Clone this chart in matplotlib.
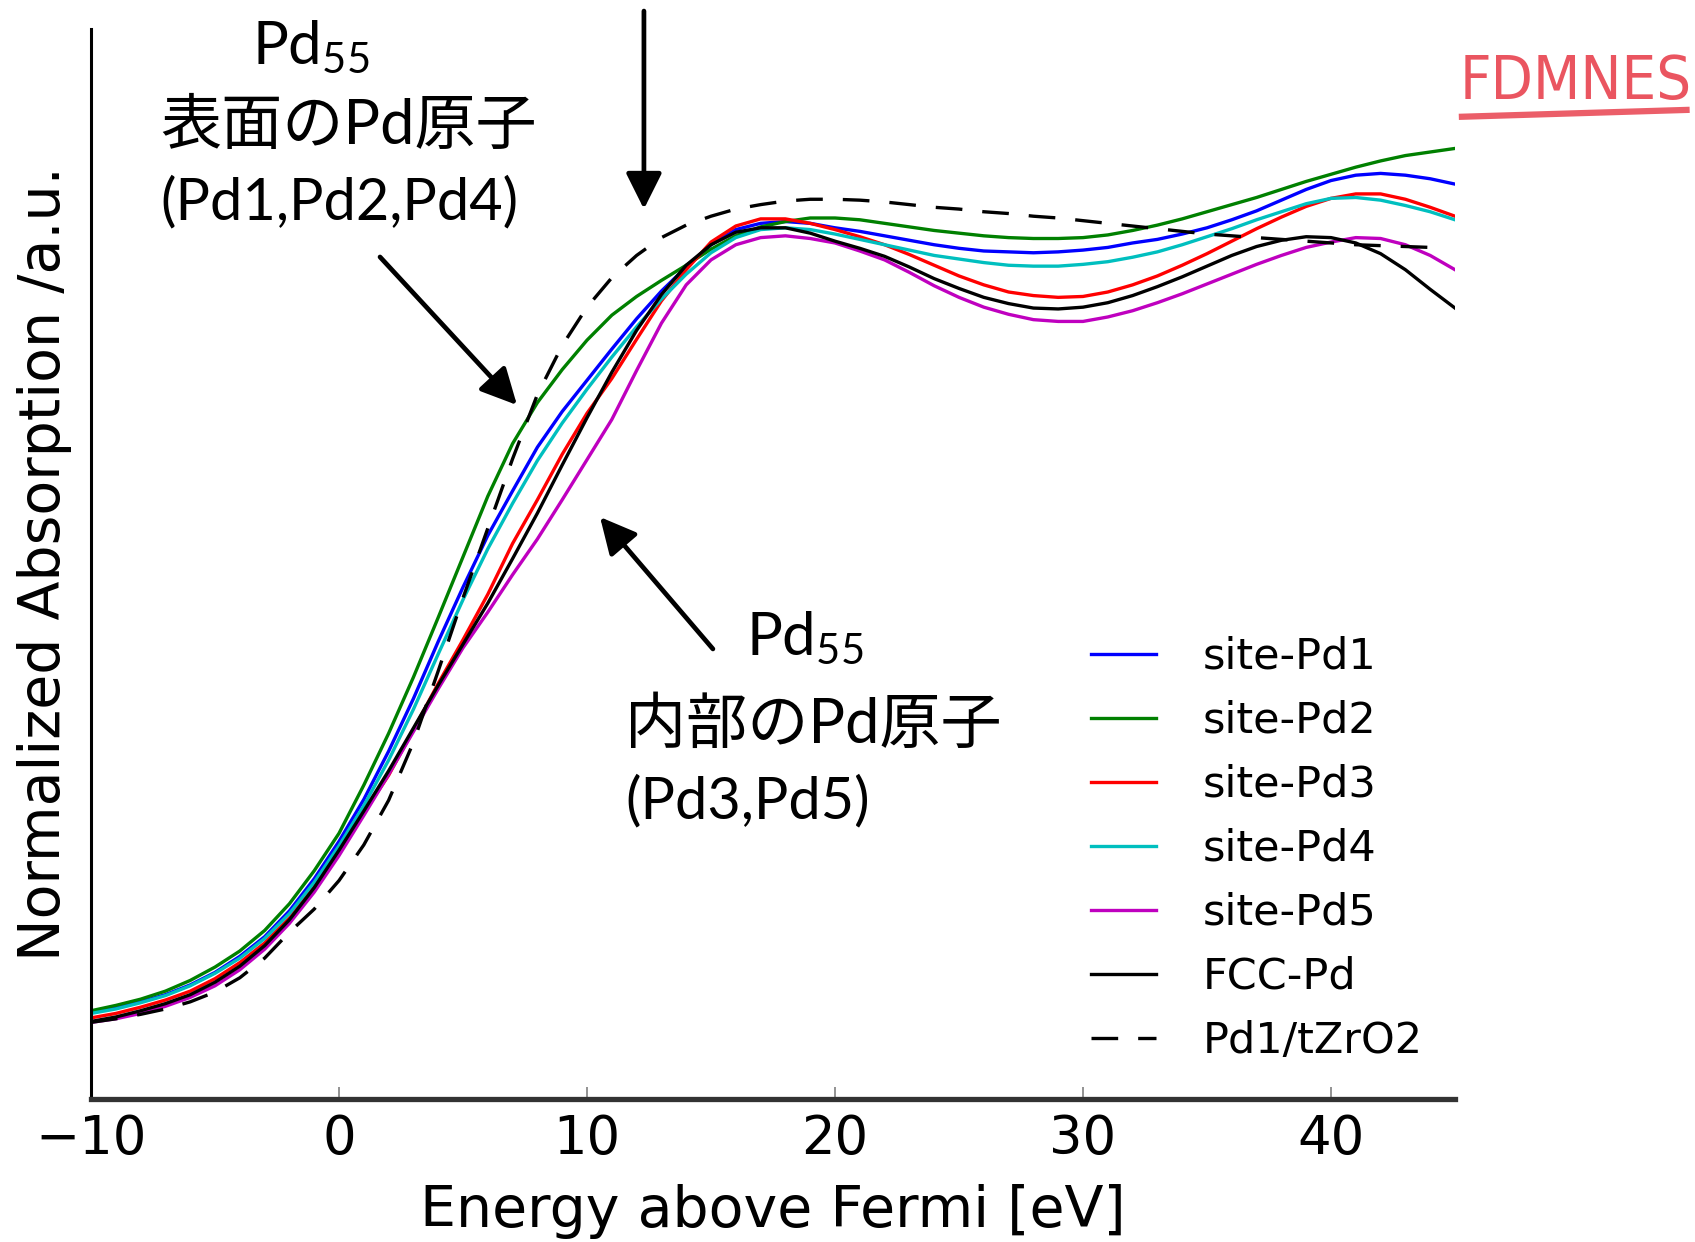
import matplotlib
matplotlib.use("Agg")
import matplotlib.pyplot as plt
from matplotlib.lines import Line2D

# Energy grid (eV above Fermi level)
energy = [-10, -9, -8, -7, -6, -5, -4, -3, -2, -1, 0, 1, 2, 3, 4, 5, 6, 7, 8, 9,
          10, 11, 12, 13, 14, 15, 16, 17, 18, 19, 20, 21, 22, 23, 24, 25, 26, 27,
          28, 29, 30, 31, 32, 33, 34, 35, 36, 37, 38, 39, 40, 41, 42, 43, 44, 45]

# Normalized absorption for each Pd site of Pd55
pd1 = [0.097, 0.102, 0.109, 0.117, 0.128, 0.142, 0.160, 0.182, 0.211, 0.247,
       0.289, 0.336, 0.390, 0.449, 0.513, 0.574, 0.632, 0.682, 0.731, 0.771,
       0.806, 0.841, 0.875, 0.906, 0.933, 0.958, 0.975, 0.982, 0.984, 0.982,
       0.977, 0.973, 0.968, 0.963, 0.958, 0.954, 0.951, 0.950, 0.949, 0.950,
       0.952, 0.955, 0.960, 0.964, 0.970, 0.977, 0.986, 0.996, 1.008, 1.020,
       1.030, 1.036, 1.038, 1.036, 1.032, 1.026]
pd2 = [0.099, 0.105, 0.112, 0.121, 0.133, 0.148, 0.166, 0.189, 0.219, 0.256,
       0.298, 0.352, 0.410, 0.473, 0.540, 0.608, 0.676, 0.735, 0.781, 0.818,
       0.851, 0.879, 0.900, 0.918, 0.935, 0.953, 0.968, 0.978, 0.984, 0.988,
       0.988, 0.986, 0.982, 0.978, 0.974, 0.971, 0.968, 0.966, 0.965, 0.965,
       0.966, 0.969, 0.974, 0.980, 0.987, 0.995, 1.003, 1.011, 1.020, 1.029,
       1.037, 1.045, 1.052, 1.058, 1.062, 1.066]
pd3 = [0.091, 0.096, 0.103, 0.111, 0.121, 0.135, 0.153, 0.175, 0.203, 0.238,
       0.279, 0.321, 0.363, 0.414, 0.466, 0.515, 0.566, 0.623, 0.672, 0.723,
       0.769, 0.808, 0.852, 0.895, 0.930, 0.961, 0.979, 0.987, 0.987, 0.982,
       0.975, 0.967, 0.958, 0.947, 0.935, 0.923, 0.913, 0.905, 0.901, 0.899,
       0.900, 0.905, 0.913, 0.923, 0.935, 0.948, 0.962, 0.976, 0.989, 1.001,
       1.010, 1.015, 1.015, 1.009, 1.000, 0.990]
pd4 = [0.096, 0.101, 0.108, 0.116, 0.127, 0.141, 0.158, 0.180, 0.208, 0.243,
       0.284, 0.329, 0.380, 0.437, 0.499, 0.560, 0.617, 0.668, 0.716, 0.758,
       0.796, 0.832, 0.866, 0.897, 0.925, 0.949, 0.966, 0.975, 0.977, 0.975,
       0.970, 0.964, 0.958, 0.952, 0.946, 0.942, 0.938, 0.935, 0.934, 0.934,
       0.936, 0.939, 0.944, 0.950, 0.958, 0.967, 0.976, 0.986, 0.995, 1.004,
       1.010, 1.011, 1.008, 1.002, 0.995, 0.986]
pd5 = [0.086, 0.090, 0.096, 0.104, 0.114, 0.127, 0.145, 0.168, 0.197, 0.232,
       0.273, 0.318, 0.364, 0.412, 0.460, 0.506, 0.546, 0.588, 0.628, 0.672,
       0.717, 0.762, 0.817, 0.870, 0.913, 0.941, 0.958, 0.966, 0.968, 0.965,
       0.960, 0.951, 0.941, 0.927, 0.912, 0.899, 0.888, 0.880, 0.874, 0.872,
       0.872, 0.877, 0.884, 0.893, 0.903, 0.914, 0.925, 0.936, 0.946, 0.955,
       0.961, 0.966, 0.965, 0.958, 0.946, 0.930]
fcc_pd = [0.087, 0.092, 0.099, 0.107, 0.117, 0.131, 0.149, 0.172, 0.201, 0.237,
          0.279, 0.323, 0.368, 0.416, 0.464, 0.510, 0.556, 0.606, 0.657, 0.711,
          0.764, 0.815, 0.862, 0.902, 0.935, 0.958, 0.972, 0.977, 0.977, 0.971,
          0.962, 0.954, 0.945, 0.933, 0.920, 0.909, 0.899, 0.892, 0.887, 0.886,
          0.888, 0.893, 0.901, 0.911, 0.922, 0.934, 0.946, 0.956, 0.963, 0.967,
          0.966, 0.960, 0.948, 0.930, 0.908, 0.887]
# experiment reference stops at 44 eV
pd1_tzro2 = [0.086, 0.090, 0.095, 0.101, 0.109, 0.120, 0.136, 0.158, 0.187, 0.213,
             0.245, 0.285, 0.335, 0.400, 0.480, 0.562, 0.640, 0.718, 0.790, 0.845,
             0.888, 0.921, 0.946, 0.966, 0.980, 0.990, 0.998, 1.003, 1.007, 1.009,
             1.009, 1.008, 1.006, 1.003, 1.000, 0.998, 0.995, 0.993, 0.990, 0.988,
             0.985, 0.982, 0.979, 0.976, 0.973, 0.970, 0.968, 0.966, 0.964, 0.962,
             0.960, 0.958, 0.957, 0.956, 0.955]

series = [
    ("site-Pd1", pd1, "b"),
    ("site-Pd2", pd2, "g"),
    ("site-Pd3", pd3, "r"),
    ("site-Pd4", pd4, "c"),
    ("site-Pd5", pd5, "m"),
    ("FCC-Pd", fcc_pd, "k"),
]

plt.rcParams["mathtext.fontset"] = "custom"
plt.rcParams["mathtext.rm"] = "Lato"
plt.rcParams["mathtext.it"] = "Lato:italic"

fig = plt.figure(figsize=(16.95, 12.42), dpi=100)
ax = fig.add_axes([0.0537, 0.1151, 0.8047, 0.8616])

for label, values, color in series:
    ax.plot(energy, values, color=color, lw=2.4, label=label)
ax.plot(energy[:len(pd1_tzro2)], pd1_tzro2, color="k", lw=2.4,
        linestyle=(0, (8, 6)), label="Pd1/tZrO2")

ax.set_xlim(-10, 45)
ax.set_ylim(0, 1.2)
ax.set_xticks([-10, 0, 10, 20, 30, 40])
ax.set_yticks([])

for side in ("top", "right"):
    ax.spines[side].set_visible(False)
ax.spines["left"].set_color("k")
ax.spines["left"].set_linewidth(2.2)
ax.spines["bottom"].set_color("#333333")
ax.spines["bottom"].set_linewidth(3.8)

ax.tick_params(axis="x", direction="in", length=9, width=1.2, color="#808080",
               labelsize=38, pad=10)
ax.set_xlabel("Energy above Fermi [eV]", fontsize=41, labelpad=14)
ax.set_ylabel("Normalized Absorption /a.u.", fontsize=41, labelpad=14)

ax.legend(loc="upper left", bbox_to_anchor=(0.6437, 0.4880),
          bbox_transform=fig.transFigure, frameon=False, fontsize=31,
          handlelength=1.5, handletextpad=1.1, labelspacing=0.51,
          borderpad=0, borderaxespad=0)

# annotations for the surface / inner atoms of Pd55
jp = ["Lato", "Noto Sans CJK JP"]
fig.text(0.1487, 0.9477, r"Pd$_{\mathrm{55}}$", fontsize=43, family=jp, va="baseline")
fig.text(0.0944, 0.8840, "表面のPd原子", fontsize=44, family=jp, va="baseline")
fig.text(0.0944, 0.8237, "(Pd1,Pd2,Pd4)", fontsize=41.5, family=jp, va="baseline")

fig.text(0.4401, 0.4718, r"Pd$_{\mathrm{55}}$", fontsize=43, family=jp, va="baseline")
fig.text(0.3687, 0.4018, "内部のPd原子", fontsize=44, family=jp, va="baseline")
fig.text(0.3687, 0.3414, "(Pd3,Pd5)", fontsize=41.5, family=jp, va="baseline")

arrow = dict(arrowstyle="-|>,head_length=0.4,head_width=0.2", color="k",
             lw=3.4, mutation_scale=55, shrinkA=0, shrinkB=0)
for start, end in [((0.3799, 0.9911), (0.3799, 0.8317)),
                   ((0.2242, 0.7931), (0.3050, 0.6739)),
                   ((0.4206, 0.4775), (0.3540, 0.5837))]:
    ax.annotate("", xy=end, xytext=start, xycoords="figure fraction",
                textcoords="figure fraction", arrowprops=arrow)

# code logo in the corner
logo_color = "#e8424f"
fig.text(0.8610, 0.9200, "FDMNES", fontsize=44, color=logo_color, alpha=0.9,
         family="DejaVu Sans", fontstretch="condensed", va="baseline")
fig.add_artist(Line2D([0.8625, 0.995], [0.906, 0.9115], transform=fig.transFigure,
                      color=logo_color, lw=4.5, alpha=0.85))

fig.savefig("out.png", dpi=100)
